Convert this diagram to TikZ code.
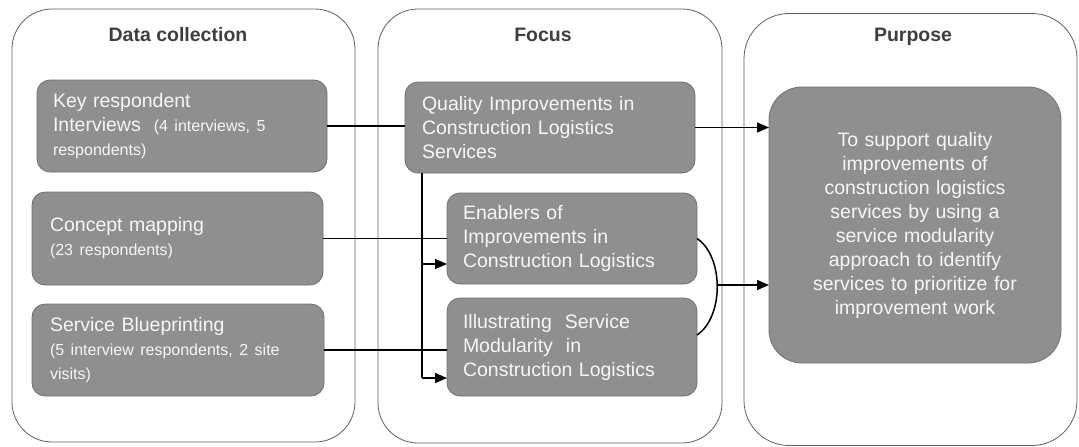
\documentclass[tikz,border=0pt]{standalone}
\usepackage{fontspec}
\setmainfont{Liberation Sans}
\usetikzlibrary{arrows.meta}
\definecolor{boxgray}{RGB}{143,143,143}
\definecolor{boxline}{RGB}{112,112,112}
\definecolor{boxtext}{RGB}{246,246,246}
\definecolor{titlegray}{RGB}{62,62,62}
\definecolor{contline}{RGB}{95,95,95}
\newcommand{\smalltxt}{\fontsize{16}{20}\selectfont}
\tikzset{
  container/.style={draw=contline, line width=0.8pt, rounded corners=40pt, outer sep=0pt, inner sep=0pt},
  ttl/.style={text=titlegray, font=\fontsize{19.5}{23}\selectfont\bfseries},
  gbox/.style={draw=boxline, fill=boxgray, line width=0.8pt, rounded corners=13pt, outer sep=0pt,
     text=boxtext, font=\fontsize{19.5}{24}\selectfont, align=left, inner ysep=0pt},
  pbox/.style={draw=boxline, fill=boxgray, line width=0.8pt, rounded corners=33pt, outer sep=0pt,
     text=boxtext, font=\fontsize{19.5}{24}\selectfont, align=center, inner sep=0pt},
  conn/.style={draw=black, line width=1.5pt},
  arr/.style={conn, -{Triangle[length=12pt,width=10pt]}}
}
\begin{document}
\begin{tikzpicture}[x=1pt,y=-1pt]
\useasboundingbox (0,0) rectangle (1079,447);
% containers
\node[container, minimum width=343pt, minimum height=433pt] (c1) at (183.5,225.5) {};
\node[container, minimum width=344pt, minimum height=434pt] (c2) at (550,226) {};
\node[container, minimum width=333pt, minimum height=432pt, rounded corners=45pt] (c3) at (910.5,229.5) {};
% titles
\node[ttl] (t1) at (178,35) {Data collection};
\node[ttl] (t2) at (543,35) {Focus};
\node[ttl] (t3) at (913,37) {Purpose};
% data collection boxes
\node[gbox, minimum width=290pt, minimum height=92pt, text width=258pt, inner xsep=16pt] (K) at (182,126)
  {Key respondent\\Interviews~ {\smalltxt (4 interviews, 5}\\{\smalltxt respondents)}};
\node[gbox, minimum width=291pt, minimum height=93pt, text width=255pt, inner xsep=18pt] (CM) at (177.5,238.5)
  {Concept mapping\\{\smalltxt (23 respondents)}};
\node[gbox, minimum width=292pt, minimum height=92pt, text width=256pt, inner xsep=18pt] (SB) at (178,350)
  {Service Blueprinting\\{\smalltxt (5 interview respondents, 2 site}\\{\smalltxt visits)}};
% focus boxes
\node[gbox, minimum width=290pt, minimum height=91pt, text width=256pt, inner xsep=17pt] (Q) at (550,127.5)
  {Quality Improvements in\\Construction Logistics\\Services};
\node[gbox, minimum width=250pt, minimum height=91pt, text width=218pt, inner xsep=16pt] (E) at (572,238.5)
  {Enablers of\\Improvements in\\Construction Logistics};
\node[gbox, minimum width=250pt, minimum height=98pt, text width=218pt, inner xsep=16pt] (I) at (572,347)
  {Illustrating~ Service\\Modularity~ in\\Construction Logistics};
% purpose box
\node[pbox, minimum width=292pt, minimum height=276pt, text width=280pt] (P) at (915,225)
  {To support quality\\improvements of\\construction logistics\\services by using a\\service modularity\\approach to identify\\services to prioritize for\\improvement work};
% connectors
\draw[conn] (K.east) -- (K.east -| Q.west);
\draw[conn] (CM.east) -- (CM.east -| E.west);
\draw[conn] (SB.east) -- (SB.east -| I.west);
\coordinate (vtop) at ([xshift=17pt]Q.south west);
\coordinate (vbot) at (vtop |- 0,378);
\coordinate (vmid) at (vtop |- 0,264);
\draw[conn] (vtop) -- (vbot);
\draw[arr] (vmid) -- (vmid -| E.west);
\draw[arr] (vbot) -- (vbot -| I.west);
\draw[arr] (Q.east) -- (Q.east -| P.west);
\draw[conn] (E.east) .. controls +(27,18) and +(27,-18) .. ([yshift=12pt]I.east);
\coordinate (cm) at (718,285);
\draw[arr] (cm) -- (cm -| P.west);
\end{tikzpicture}
\end{document}
